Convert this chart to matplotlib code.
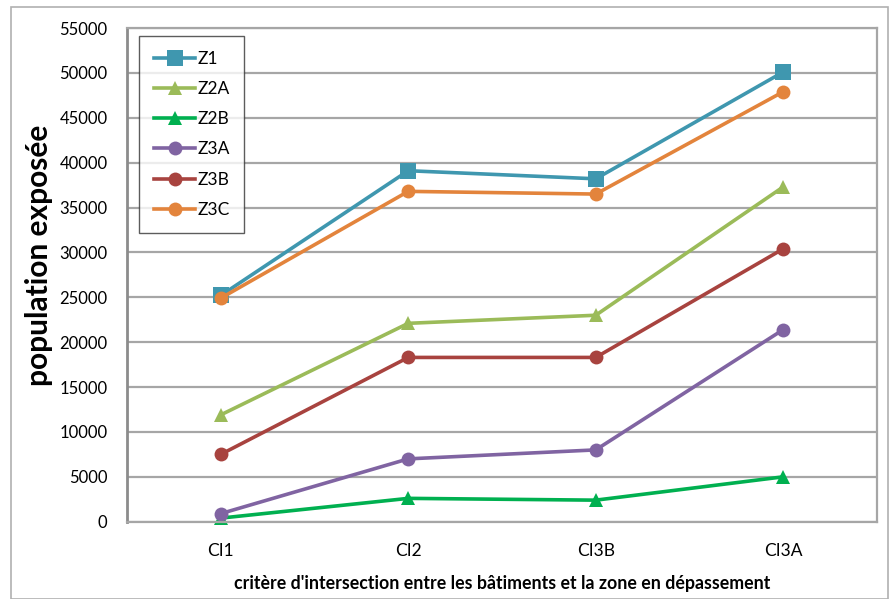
import matplotlib
matplotlib.use("Agg")
import matplotlib.pyplot as plt
from matplotlib.patches import Rectangle

categories = ["CI1", "CI2", "CI3B", "CI3A"]
series_names = ["Z1", "Z2A", "Z2B", "Z3A", "Z3B", "Z3C"]
z1 = [25200, 39100, 38200, 50100]
z2a = [11900, 22100, 23000, 37300]
z2b = [400, 2600, 2400, 5000]
z3a = [900, 7000, 8000, 21400]
z3b = [7500, 18300, 18300, 30400]
z3c = [24900, 36800, 36500, 47900]
yticks = list(range(0, 55001, 5000))

colors = ["#3F97AF", "#9BBB59", "#00B050", "#8064A2", "#A8433F", "#E3843C"]
markers = ["s", "^", "^", "o", "o", "o"]
values = [z1, z2a, z2b, z3a, z3b, z3c]

plt.rcParams["font.family"] = ["Lato", "DejaVu Sans"]

fig = plt.figure(figsize=(8.9, 5.99), dpi=100)
fig.patches.append(Rectangle((11 / 890, 0), 877 / 890, 1 - 7 / 599, transform=fig.transFigure,
                             fill=False, edgecolor="#b0b0b0", linewidth=1.2))
ax = fig.add_axes([127 / 890, 1 - 521.7 / 599, 750 / 890, (521.7 - 28) / 599])

x = range(len(categories))
for name, vals, col, mk in zip(series_names, values, colors, markers):
    ax.plot(x, vals, color=col, linewidth=2.6, marker=mk,
            markersize=11 if mk == "s" else 10,
            markeredgewidth=0, label=name, clip_on=False)

ax.set_xlim(-0.5, len(categories) - 0.5)
ax.set_ylim(0, 55000)
ax.set_yticks(yticks)
ax.set_yticklabels([str(v) for v in yticks], fontsize=12)
ax.set_xticks(list(x))
ax.set_xticklabels(categories, fontsize=12.5)
ax.tick_params(axis="y", length=0, pad=14)
ax.tick_params(axis="x", length=0, pad=15)
ax.yaxis.grid(True, color="#a6a6a6", linewidth=1.6)
ax.set_axisbelow(True)
for side in ["top", "right", "bottom"]:
    ax.spines[side].set_color("#a6a6a6")
    ax.spines[side].set_linewidth(1.6)
ax.spines["left"].set_color("#8c8c8c")
ax.spines["left"].set_linewidth(2)

ax.set_ylabel("population exposée", fontsize=21.5, fontweight="bold")
ax.yaxis.set_label_coords(-0.098, 0.54)
ax.set_xlabel("critère d'intersection entre les bâtiments et la zone en dépassement",
              fontsize=12.8, fontweight="bold", labelpad=12)

leg = ax.legend(loc="upper left", bbox_to_anchor=(12 / 750, 1 - 8 / 493.7), fontsize=12.5,
                frameon=True, fancybox=False, handlelength=2.4, labelspacing=0.82,
                handletextpad=0.1, borderpad=0.85, borderaxespad=0)
leg.get_frame().set_edgecolor("#333333")
leg.get_frame().set_linewidth(1.0)

fig.savefig("out.png", dpi=100)
